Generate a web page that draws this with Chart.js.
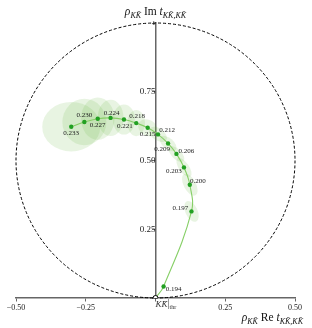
<!DOCTYPE html>
<html>
<head>
<meta charset="utf-8">
<script src="https://cdn.jsdelivr.net/npm/chart.js@4.4.1/dist/chart.umd.min.js"></script>
<style>
html,body{margin:0;padding:0;background:#fff;}
#wrap{width:312px;height:328px;position:relative;}
</style>
</head>
<body>
<div id="wrap"><canvas id="c" width="312" height="328"></canvas></div>
<script>
// ---- data ----
const energies = ['0.194','0.197','0.200','0.203','0.206','0.209','0.212','0.215','0.218','0.221','0.224','0.227','0.230','0.233'];
const reT = [0.029, 0.129, 0.123, 0.102, 0.075, 0.045, 0.009, -0.028, -0.069, -0.113, -0.161, -0.207, -0.255, -0.302];
const imT = [0.042, 0.315, 0.412, 0.475, 0.524, 0.562, 0.595, 0.619, 0.636, 0.649, 0.655, 0.652, 0.640, 0.623];
// uncertainty ellipses: semi-axes (data units) and orientation (deg)
const errA = [0.004, 0.040, 0.043, 0.040, 0.036, 0.036, 0.036, 0.036, 0.047, 0.054, 0.065, 0.076, 0.083, 0.104];
const errB = [0.002, 0.022, 0.022, 0.018, 0.018, 0.020, 0.022, 0.029, 0.032, 0.040, 0.047, 0.061, 0.080, 0.090];
const errAngle = [60, 65, 62, 55, 45, 40, 35, 30, 90, 90, 90, 90, 90, 0];
const xTicks = [-0.5, -0.25, 0, 0.25, 0.5];
const yTicks = [0, 0.25, 0.5, 0.75, 1];
const threshold = {x: 0, y: 0};

// label placement (dx, dy in px) relative to each point
const labelOffset = [[10,3],[-11,-3],[8,-4],[-10,4],[10,-3],[-6,6],[9,-4],[0,6.5],[1,-6.5],[1,6.5],[1,-5],[0,6],[0,-7],[0,6.5]];

const pts = reT.map((x,i)=>({x:x, y:imT[i]}));
const curve = [threshold].concat(pts);

const SERIF = '"Liberation Serif","DejaVu Serif",serif';

const decor = {
  id:'decor',
  beforeDatasetsDraw(chart){
    const ctx = chart.ctx, xs = chart.scales.x, ys = chart.scales.y;
    const kx = xs.getPixelForValue(1)-xs.getPixelForValue(0);
    const ky = ys.getPixelForValue(0)-ys.getPixelForValue(1);
    ctx.save();
    ctx.fillStyle = 'rgba(100,180,60,0.15)';
    for(let i=0;i<reT.length;i++){
      const cx = xs.getPixelForValue(reT[i]), cy = ys.getPixelForValue(imT[i]);
      ctx.beginPath();
      ctx.ellipse(cx, cy, errA[i]*kx, errB[i]*ky, errAngle[i]*Math.PI/180, 0, Math.PI*2);
      ctx.fill();
    }
    ctx.restore();
    ctx.save();
    ctx.strokeStyle = '#000';
    ctx.lineWidth = 1;
    ctx.setLineDash([3,2]);
    ctx.beginPath();
    ctx.ellipse(xs.getPixelForValue(0), ys.getPixelForValue(0.5), 0.5*kx, 0.5*ky, 0, 0, Math.PI*2);
    ctx.stroke();
    ctx.restore();
  },
  afterDatasetsDraw(chart){
    const ctx = chart.ctx, xs = chart.scales.x, ys = chart.scales.y;
    ctx.save();
    ctx.fillStyle = '#222';
    ctx.font = '7px '+SERIF;
    ctx.textAlign = 'center';
    ctx.textBaseline = 'middle';
    for(let i=0;i<energies.length;i++){
      const cx = xs.getPixelForValue(reT[i]), cy = ys.getPixelForValue(imT[i]);
      ctx.fillText(energies[i], cx+labelOffset[i][0], cy+labelOffset[i][1]);
    }
    ctx.restore();
  },
  afterDraw(chart){
    const ctx = chart.ctx, xs = chart.scales.x, ys = chart.scales.y;
    function mathText(parts, x, y, align){
      let w = 0;
      const fonts = parts.map(p=>(p[1]?'italic ':'')+(p[2]?'8px ':'11.5px ')+SERIF);
      parts.forEach((p,i)=>{ctx.font=fonts[i]; w+=ctx.measureText(p[0]).width;});
      let cx = align==='right' ? x-w : (align==='center'? x-w/2 : x);
      ctx.textAlign='left'; ctx.textBaseline='alphabetic';
      parts.forEach((p,i)=>{ctx.font=fonts[i]; ctx.fillText(p[0], cx, y+(p[2]?2.5:0)); cx+=ctx.measureText(p[0]).width;});
    }
    ctx.save();
    ctx.fillStyle = '#111';
    const KKb = 'KK\u0304';
    mathText([['\u03c1',true,false],[KKb,true,true],[' Im ',false,false],['t',true,false],[KKb+','+KKb,true,true]], xs.getPixelForValue(0), 15, 'center');
    mathText([['\u03c1',true,false],[KKb,true,true],[' Re ',false,false],['t',true,false],[KKb+','+KKb,true,true]], 303, 321, 'right');
    const x0 = xs.getPixelForValue(0), y0 = ys.getPixelForValue(0);
    ctx.font = 'italic 9px '+SERIF;
    ctx.textAlign='left'; ctx.textBaseline='alphabetic';
    ctx.fillStyle='#333';
    ctx.fillText(KKb, x0, y0+9);
    const w = ctx.measureText(KKb).width;
    ctx.strokeStyle='#555'; ctx.lineWidth=0.6;
    ctx.beginPath(); ctx.moveTo(x0+w+1, y0+1); ctx.lineTo(x0+w+1, y0+11); ctx.stroke();
    ctx.font = '6px '+SERIF;
    ctx.fillText('thr', x0+w+2, y0+11);
    ctx.restore();
  }
};

new Chart(document.getElementById('c'), {
  type:'scatter',
  data:{
    datasets:[
      {data:pts, showLine:false, pointRadius:2.2, pointHoverRadius:2.2, pointBackgroundColor:'#22a022', pointBorderWidth:0, order:1},
      {data:[threshold], showLine:false, pointRadius:2.5, pointBackgroundColor:'#fff', pointBorderColor:'#000', pointBorderWidth:1, order:0},
      {data:curve, showLine:true, tension:0.4, borderColor:'#86cf66', borderWidth:1.1, pointRadius:0, order:2}
    ]
  },
  options:{
    responsive:false, animation:false, devicePixelRatio:1,
    layout:{padding:{left:16, right:17, top:23, bottom:30}},
    plugins:{legend:{display:false}, tooltip:{enabled:false}},
    scales:{
      x:{
        type:'linear', min:-0.5, max:0.5, position:{y:0},
        afterFit(s){ s.height = 0; },
        afterBuildTicks(s){ s.ticks = xTicks.map(v=>({value:v})); },
        grid:{drawOnChartArea:false, drawTicks:true, tickLength:3, color:'#666'},
        border:{display:true, color:'#666', width:1.5},
        ticks:{font:{family:SERIF, size:8}, color:'#222', padding:2, maxRotation:0,
          callback:(v)=> v===0 ? '' : (v<0?'\u2212':'')+Math.abs(v).toFixed(2)}
      },
      y:{
        type:'linear', min:0, max:1, position:{x:0},
        afterFit(s){ s.width = 0; },
        afterBuildTicks(s){ s.ticks = yTicks.map(v=>({value:v})); },
        grid:{drawOnChartArea:false, drawTicks:true, tickLength:3, color:'#666'},
        border:{display:true, color:'#666', width:1.5},
        ticks:{font:(c)=>({family:SERIF, size:(c.tick && c.tick.value===1)?7:9}), color:'#222', padding:2,
          callback:(v)=> v===0 ? '' : (v===1 ? '1' : v.toFixed(2))}
      }
    }
  },
  plugins:[decor]
});
</script>
</body>
</html>
